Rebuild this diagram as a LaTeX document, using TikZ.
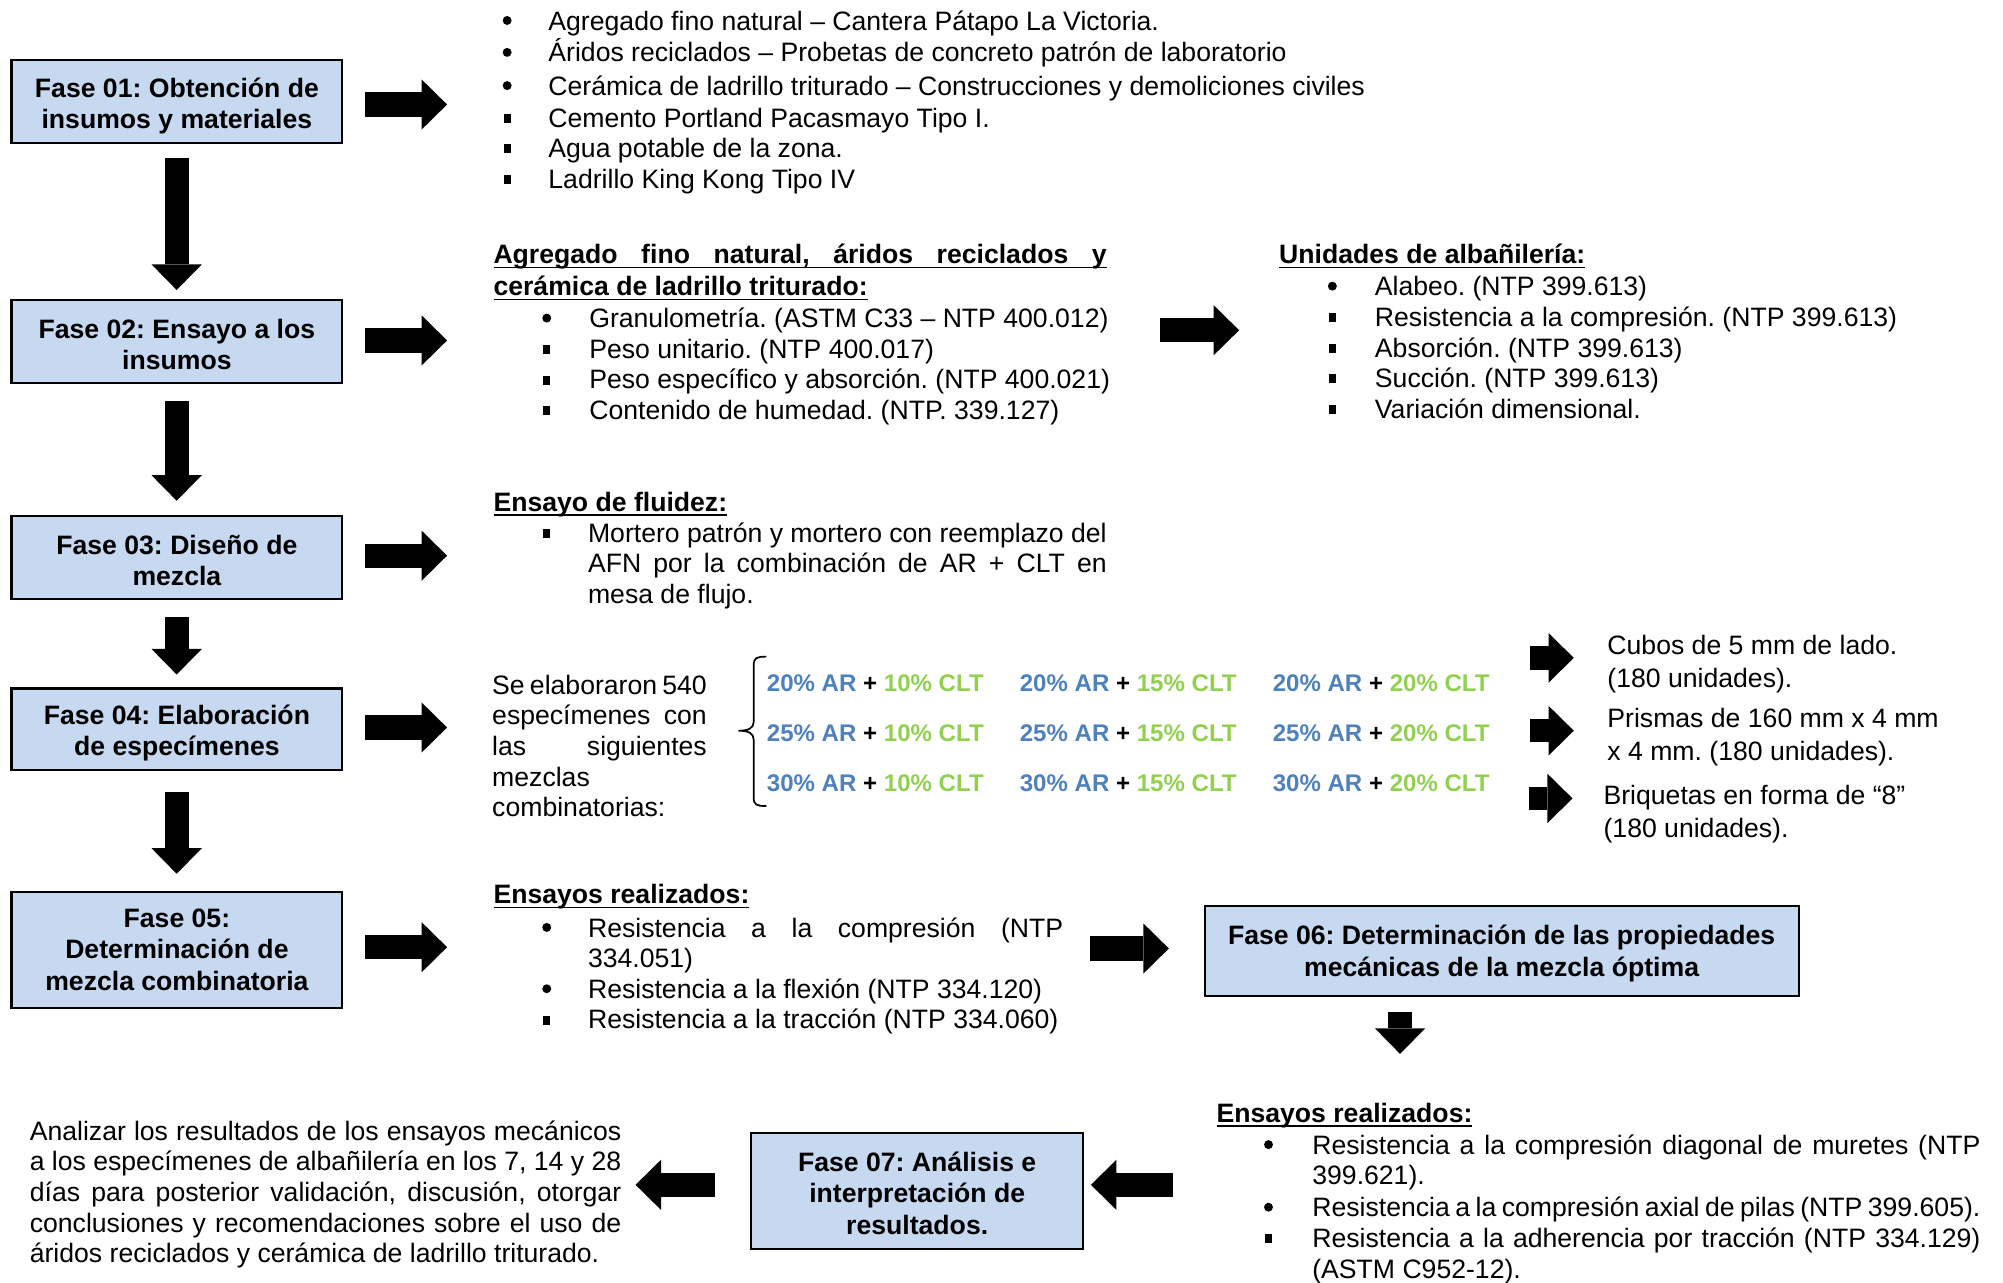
\documentclass[tikz,border=0pt]{standalone}
\usepackage{fontspec}
\setmainfont{Liberation Sans}
\usetikzlibrary{arrows.meta}
\definecolor{boxfill}{HTML}{C6D9F1}
\definecolor{arblue}{HTML}{4F81BD}
\definecolor{cltgreen}{HTML}{92D050}
\newcommand\fsz{\fontsize{12.5}{14.7}\selectfont}
\newcommand\myul[1]{\setbox0\hbox{#1}\rlap{\rule[-2.2pt]{\wd0}{0.9pt}}\box0}
\newcommand\li[4]{\node[txt] (#1) at (#2,#3+7.5) {#4};}
\newcommand\hd[4]{\node[hdr] (#1) at (#2,#3+7.5) {\myul{#4}};}
\newcommand\rbul[2]{\fill (#1,#2) circle[radius=2.1pt];}
\newcommand\sbul[2]{\fill ([shift={(-1.6pt,-2.4pt)}]#1,#2) rectangle +(3.2pt,4.2pt);}
\newcommand\mx[5]{\node[mix] (#1) at (#2,#3+6.5) {\textcolor{arblue}{#4\% AR} + \textcolor{cltgreen}{#5\% CLT}};}
\frenchspacing
\begin{document}
\begin{tikzpicture}[x=0.6pt,y=-0.6pt,
  phase/.style={draw=black, line width=1pt, fill=boxfill, inner sep=0pt},
  phtext/.style={font=\fsz\bfseries, align=center, inner sep=0pt},
  txt/.style={font=\fsz, inner sep=0pt, anchor=base west},
  hdr/.style={font=\fsz\bfseries, inner sep=0pt, anchor=base west},
  mix/.style={font=\fontsize{11.3}{13}\selectfont\bfseries, inner sep=0pt, anchor=base west},
  barrow/.style={line width=11.4pt, -{Triangle[length=12pt,width=23.6pt,line width=0pt]}},
  sarrow/.style={line width=11pt, -{Triangle[length=11.8pt,width=23.2pt,line width=0pt]}},
]
\useasboundingbox (0,0) rectangle (1568,1004);

% ---------- phase boxes ----------
\node[phase, minimum width=155.4pt, minimum height=39pt] (f1) at (138.5,79.5) {};
\node[phase, minimum width=155.4pt, minimum height=39pt] (f2) at (138.5,267.5) {};
\node[phase, minimum width=155.4pt, minimum height=39pt] (f3) at (138.5,436.5) {};
\node[phase, minimum width=155.4pt, minimum height=38.4pt] (f4) at (138.5,571) {};
\node[phase, minimum width=155.4pt, minimum height=54.6pt] (f5) at (138.5,743.5) {};
\node[phase, minimum width=279pt, minimum height=42.6pt] (f6) at (1175.5,744.5) {};
\node[phase, minimum width=156pt, minimum height=54.6pt] (f7) at (718,932.5) {};
\node[phtext] (f1t) at ([yshift=-2.1pt]f1.center) {Fase 01: Obtención de\\insumos y materiales};
\node[phtext] (f2t) at ([yshift=-1.2pt]f2.center) {Fase 02: Ensayo a los\\insumos};
\node[phtext] (f3t) at ([yshift=-1.2pt]f3.center) {Fase 03: Diseño de\\mezcla};
\node[phtext] (f4t) at ([yshift=-1.8pt]f4.center) {Fase 04: Elaboración\\de especímenes};
\node[phtext] (f5t) at (f5.center) {Fase 05:\\Determinación de\\mezcla combinatoria};
\node[phtext] (f6t) at ([yshift=-1.2pt]f6.center) {Fase 06: Determinación de las propiedades\\mecánicas de la mezcla óptima};
\node[phtext] (f7t) at ([yshift=-0.9pt]f7.center) {Fase 07: Análisis e\\interpretación de\\resultados.};

% ---------- block arrows ----------
\coordinate (d1s) at (138.3,124); \coordinate (d1e) at (138.3,227);
\coordinate (d2s) at (138.3,314); \coordinate (d2e) at (138.3,392);
\coordinate (d3s) at (138.3,483); \coordinate (d3e) at (138.3,528);
\coordinate (d4s) at (138.3,620); \coordinate (d4e) at (138.3,684);
\coordinate (d6s) at (1096,792); \coordinate (d6e) at (1096,825);
\draw[barrow] (d1s) -- (d1e);
\draw[barrow] (d2s) -- (d2e);
\draw[barrow] (d3s) -- (d3e);
\draw[barrow] (d4s) -- (d4e);
\draw[barrow] (d6s) -- (d6e);

\coordinate (r1s) at (286,81.8);  \coordinate (r1e) at (350,81.8);
\coordinate (r2s) at (286,266.5); \coordinate (r2e) at (350,266.5);
\coordinate (r3s) at (286,435);   \coordinate (r3e) at (350,435);
\coordinate (r4s) at (286,569.5); \coordinate (r4e) at (350,569.5);
\coordinate (r5s) at (286,741.5); \coordinate (r5e) at (350,741.5);
\coordinate (mAs) at (908,258.5); \coordinate (mAe) at (970,258.5);
\coordinate (mBs) at (853,742.5); \coordinate (mBe) at (915,742.5);
\coordinate (lAs) at (560,927.5); \coordinate (lAe) at (497.5,927.5);
\coordinate (lBs) at (918,927.5); \coordinate (lBe) at (854,927.5);
\draw[barrow] (r1s) -- (r1e);
\draw[barrow] (r2s) -- (r2e);
\draw[barrow] (r3s) -- (r3e);
\draw[barrow] (r4s) -- (r4e);
\draw[barrow] (r5s) -- (r5e);
\draw[barrow] (mAs) -- (mAe);
\draw[barrow] (mBs) -- (mBe);
\draw[barrow] (lAs) -- (lAe);
\draw[barrow] (lBs) -- (lBe);

\coordinate (s1s) at (1198,515); \coordinate (s1e) at (1232,515);
\coordinate (s2s) at (1198,572); \coordinate (s2e) at (1232,572);
\coordinate (s3s) at (1197,625); \coordinate (s3e) at (1231,625);
\draw[sarrow] (s1s) -- (s1e);
\draw[sarrow] (s2s) -- (s2e);
\draw[sarrow] (s3s) -- (s3e);

% ---------- row 1 ----------
\rbul{397}{16}  \li{t1a}{429}{16}{Agregado fino natural – Cantera Pátapo La Victoria.}
\rbul{397}{41}  \li{t1b}{429}{41}{Áridos reciclados – Probetas de concreto patrón de laboratorio}
\rbul{397}{67}  \li{t1c}{429}{67}{Cerámica de ladrillo triturado – Construcciones y demoliciones civiles}
\sbul{397}{92}  \li{t1d}{429}{92}{Cemento Portland Pacasmayo Tipo I.}
\sbul{397}{116} \li{t1e}{429}{116}{Agua potable de la zona.}
\sbul{397}{140} \li{t1f}{429}{140}{Ladrillo King Kong Tipo IV}

% ---------- row 2 ----------
\hd{h2a}{386}{199}{\makebox[288pt][s]{Agregado fino natural, áridos reciclados y}}
\hd{h2b}{386}{224}{cerámica de ladrillo triturado:}
\rbul{428}{249} \li{t2a}{461}{249}{Granulometría. (ASTM C33 – NTP 400.012)}
\sbul{428}{273} \li{t2b}{461}{273}{Peso unitario. (NTP 400.017)}
\sbul{428}{297} \li{t2c}{461}{297}{Peso específico y absorción. (NTP 400.021)}
\sbul{428}{321} \li{t2d}{461}{321}{Contenido de humedad. (NTP. 339.127)}

\hd{h2u}{1001}{199}{Unidades de albañilería:}
\rbul{1043}{224} \li{u1}{1076}{224}{Alabeo. (NTP 399.613)}
\sbul{1043}{248} \li{u2}{1076}{248}{Resistencia a la compresión. (NTP 399.613)}
\sbul{1043}{272} \li{u3}{1076}{272}{Absorción. (NTP 399.613)}
\sbul{1043}{296} \li{u4}{1076}{296}{Succión. (NTP 399.613)}
\sbul{1043}{320} \li{u5}{1076}{320}{Variación dimensional.}

% ---------- row 3 ----------
\hd{h3}{386}{393}{Ensayo de fluidez:}
\sbul{428}{417} \li{t3a}{460}{417}{\makebox[243.6pt][s]{Mortero patrón y mortero con reemplazo del}}
\li{t3b}{460}{441}{\makebox[243.6pt][s]{AFN por la combinación de AR + CLT en}}
\li{t3c}{460}{465}{mesa de flujo.}

% ---------- row 4 ----------
\li{t4a}{385}{536}{\makebox[100.8pt][s]{Se elaboraron 540}}
\li{t4b}{385}{560}{\makebox[100.8pt][s]{especímenes con}}
\li{t4c}{385}{584}{\makebox[100.8pt][s]{las siguientes}}
\li{t4d}{385}{608}{mezclas}
\li{t4e}{385}{632}{combinatorias:}
\draw[line width=0.8pt] (600,514) .. controls (592,514) and (590,515) .. (590,521) -- (590,565)
  .. controls (590,570) and (586,572) .. (578,572)
  .. controls (586,572) and (590,574) .. (590,579) -- (590,624)
  .. controls (590,630) and (592,631) .. (600,631);
\mx{m11}{600}{535}{20}{10} \mx{m12}{798}{535}{20}{15} \mx{m13}{996}{535}{20}{20}
\mx{m21}{600}{574}{25}{10} \mx{m22}{798}{574}{25}{15} \mx{m23}{996}{574}{25}{20}
\mx{m31}{600}{613}{30}{10} \mx{m32}{798}{613}{30}{15} \mx{m33}{996}{613}{30}{20}
\li{c1}{1258}{505}{Cubos de 5 mm de lado.}
\li{c2}{1258}{531}{(180 unidades).}
\li{p1}{1258}{562}{Prismas de 160 mm x 4 mm}
\li{p2}{1258}{588}{x 4 mm. (180 unidades).}
\li{b1}{1255}{622}{Briquetas en forma de “8”}
\li{b2}{1255}{648}{(180 unidades).}

% ---------- row 5 ----------
\hd{h5}{386}{700}{Ensayos realizados:}
\rbul{428}{726} \li{t5a}{460}{726}{\makebox[223.2pt][s]{Resistencia a la compresión (NTP}}
\li{t5b}{460}{750}{334.051)}
\rbul{428}{774} \li{t5c}{460}{774}{Resistencia a la flexión (NTP 334.120)}
\sbul{428}{798} \li{t5d}{460}{798}{Resistencia a la tracción (NTP 334.060)}

% ---------- bottom right ----------
\hd{h6}{952}{871}{Ensayos realizados:}
\rbul{993}{896} \li{t6a}{1027}{896}{\makebox[313.8pt][s]{Resistencia a la compresión diagonal de muretes (NTP}}
\li{t6b}{1027}{920}{399.621).}
\rbul{993}{945} \li{t6c}{1027}{945}{\makebox[313.8pt][s]{Resistencia a la compresión axial de pilas (NTP 399.605).}}
\sbul{993}{969} \li{t6d}{1027}{969}{\makebox[313.8pt][s]{Resistencia a la adherencia por tracción (NTP 334.129)}}
\li{t6e}{1027}{993}{(ASTM C952-12).}

% ---------- bottom left ----------
\li{t7a}{23}{885}{\makebox[277.8pt][s]{Analizar los resultados de los ensayos mecánicos}}
\li{t7b}{23}{909}{\makebox[277.8pt][s]{a los especímenes de albañilería en los 7, 14 y 28}}
\li{t7c}{23}{933}{\makebox[277.8pt][s]{días para posterior validación, discusión, otorgar}}
\li{t7d}{23}{957}{\makebox[277.8pt][s]{conclusiones y recomendaciones sobre el uso de}}
\li{t7e}{23}{981}{áridos reciclados y cerámica de ladrillo triturado.}
\end{tikzpicture}
\end{document}
